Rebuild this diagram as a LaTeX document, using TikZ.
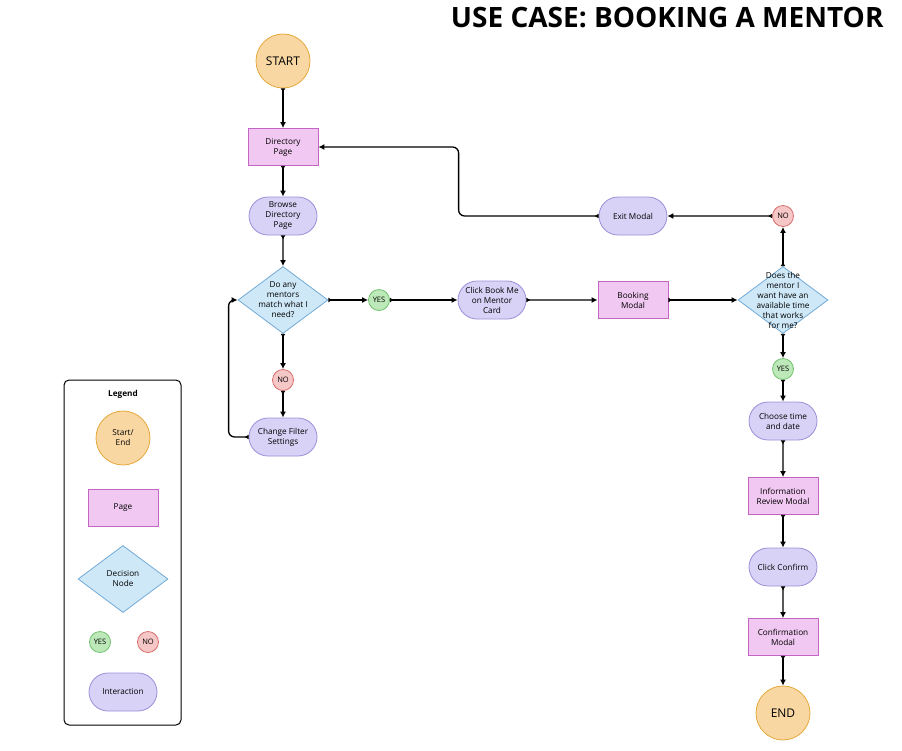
\documentclass[tikz,border=0pt]{standalone}
\usepackage{fontspec}
\setmainfont{Open Sans}
\usetikzlibrary{arrows.meta,positioning,shapes.geometric,shapes.misc}

\definecolor{startfill}{HTML}{F8D7A3}
\definecolor{startline}{HTML}{E5A83B}
\definecolor{pagefill}{HTML}{F1C8F1}
\definecolor{pageline}{HTML}{C565C3}
\definecolor{decfill}{HTML}{CFE8F8}
\definecolor{decline}{HTML}{72AAD6}
\definecolor{actfill}{HTML}{D8D2F6}
\definecolor{actline}{HTML}{9C8ED9}
\definecolor{yesfill}{HTML}{BDE8B9}
\definecolor{yesline}{HTML}{72C16F}
\definecolor{nofill}{HTML}{F5C7C6}
\definecolor{noline}{HTML}{D86E6D}

\begin{document}
\begin{tikzpicture}[x=1pt,y=-1pt,
font=\fontsize{8.2}{10}\selectfont,
term/.style={circle,thick,draw=startline,fill=startfill,minimum size=54pt,inner sep=0pt,align=center},
page/.style={rectangle,thick,draw=pageline,fill=pagefill,minimum width=70pt,minimum height=37pt,inner sep=1pt,align=center},
act/.style={rounded rectangle,thick,draw=actline,fill=actfill,minimum width=70pt,minimum height=38pt,inner sep=1pt,align=center},
dec/.style={diamond,thick,draw=decline,fill=decfill,minimum width=90pt,minimum height=67pt,inner sep=0pt},
dectxt/.style={align=center,inner sep=0pt},
yes/.style={circle,thick,draw=yesline,fill=yesfill,minimum size=21pt,inner sep=0pt,font=\fontsize{7.5}{8}\selectfont},
no/.style={circle,thick,draw=noline,fill=nofill,minimum size=21pt,inner sep=0pt,font=\fontsize{7.5}{8}\selectfont},
arr/.style={line width=1.3pt,{Latex[reversed,length=4pt,width=5pt]}-{Latex[length=6pt,width=6pt]}}]

\useasboundingbox (0,0) rectangle (902,750);

\node[anchor=base east,font=\fontsize{28}{32}\selectfont\bfseries] (title) at (887,27) {USE CASE: BOOKING A MENTOR};

% main flow
\node[term,font=\fontsize{12}{14}\selectfont] (start) at (283,61) {START};
\node[page] (dir) at (283,147) {Directory\\Page};
\node[act] (browse) at (283,216) {Browse\\Directory\\Page};
\node[dec] (d1) at (283,300) {};
\node[dectxt] at (d1) {Do any\\mentors\\match what I\\need?};
\node[yes] (y1) at (379,300) {YES};
\node[no] (n1) at (283,380) {NO};
\node[act] (filter) at (283,437) {Change Filter\\Settings};
\node[act] (book) at (492,300) {Click Book Me\\on Mentor\\Card};
\node[page] (bmodal) at (633,300) {Booking\\Modal};
\node[dec] (d2) at (783,300) {};
\node[dectxt] at (d2) {Does the\\mentor I\\want have an\\available time\\that works\\for me?};
\node[no] (n2) at (783,216) {NO};
\node[act] (exit) at (633,216) {Exit Modal};
\node[yes] (y2) at (783,369) {YES};
\node[act] (time) at (783,421) {Choose time\\and date};
\node[page] (review) at (783,496) {Information\\Review Modal};
\node[act] (confirm) at (783,567) {Click Confirm};
\node[page] (cmodal) at (783,637) {Confirmation\\Modal};
\node[term,font=\fontsize{12}{14}\selectfont] (end) at (783,713) {END};

\draw[arr] (start) -- (dir);
\draw[arr] (dir) -- (browse);
\draw[arr] (browse) -- (d1.north);
\draw[arr] (d1.east) -- (y1);
\draw[arr] (y1) -- (book);
\draw[arr] (d1.south) -- (n1);
\draw[arr] (n1) -- (filter);
\draw[arr,rounded corners=6pt] (filter.west) -- ++(-20,0) |- (d1.west);
\draw[arr] (book) -- (bmodal);
\draw[arr] (bmodal) -- (d2.west);
\draw[arr] (d2.north) -- (n2);
\draw[arr] (n2) -- (exit);
\draw[arr,rounded corners=6pt] (exit.west) -- ++(-140,0) |- (dir.east);
\draw[arr] (d2.south) -- (y2);
\draw[arr] (y2) -- (time);
\draw[arr] (time) -- (review);
\draw[arr] (review) -- (confirm);
\draw[arr] (confirm) -- (cmodal);
\draw[arr] (cmodal) -- (end);

% legend
\node[draw,line width=1pt,rounded corners=5pt,minimum width=117pt,minimum height=345pt] (legend) at (122.5,552.5) {};
\node[font=\fontsize{8.2}{10}\selectfont\bfseries] (ltitle) at (123,394) {Legend};
\node[term] (lterm) at (123,438) {Start/\\End};
\node[page] (lpage) at (123,508) {Page};
\node[dec] (ldec) at (123,579) {};
\node[dectxt] at (ldec) {Decision\\Node};
\node[yes] (lyes) at (100,642) {YES};
\node[no] (lno) at (148,642) {NO};
\node[act] (lact) at (123,692) {Interaction};
\end{tikzpicture}
\end{document}
